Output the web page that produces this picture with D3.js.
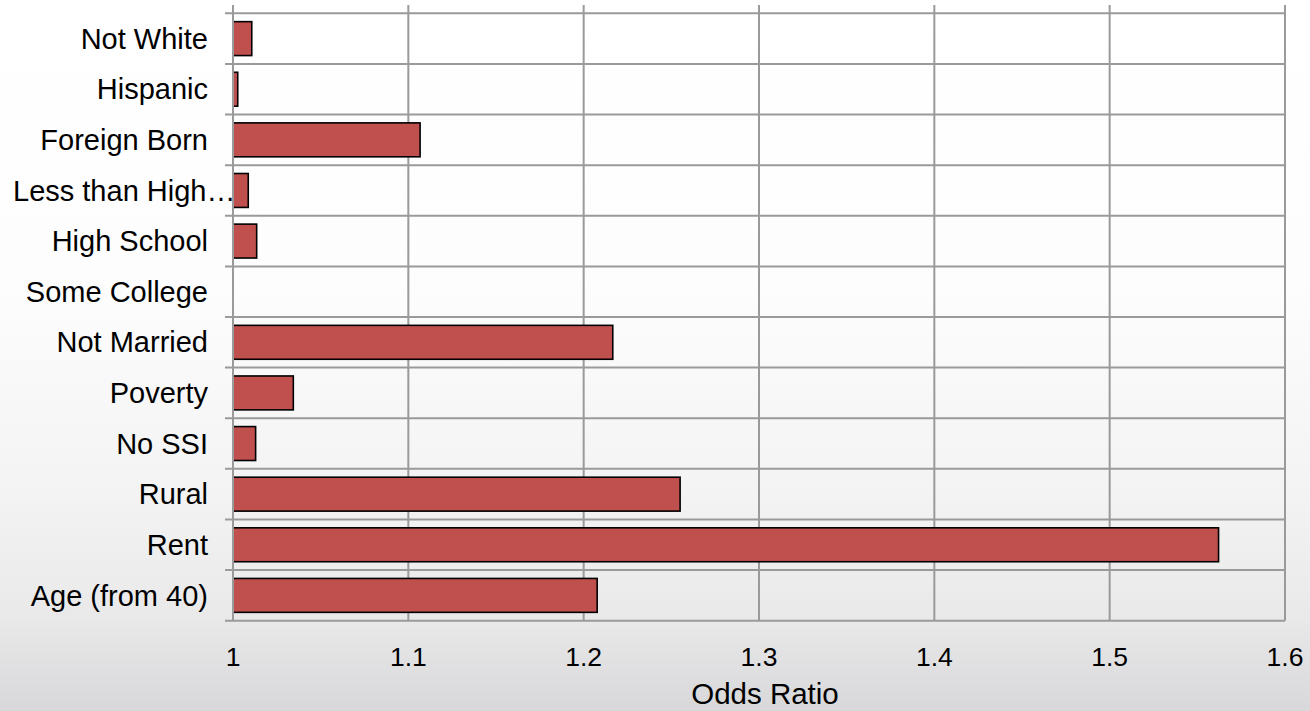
<!DOCTYPE html>
<html>
<head>
<meta charset="utf-8">
<script src="https://cdn.jsdelivr.net/npm/d3@7"></script>
<style>
html,body{margin:0;padding:0;background:#fff;}
svg{display:block;}
text{font-family:"Liberation Sans", Arial, sans-serif; fill:#000;}
</style>
</head>
<body>
<svg id="chart" width="1310" height="711"></svg>
<script>
const categories = ["Not White","Hispanic","Foreign Born","Less than High…","High School","Some College","Not Married","Poverty","No SSI","Rural","Rent","Age (from 40)"];
const oddsRatios = [1.0107,1.0027,1.1067,1.0087,1.0135,1.0,1.2166,1.0344,1.0129,1.255,1.5621,1.2077];
const xTicks = [1,1.1,1.2,1.3,1.4,1.5,1.6];
const xTickLabels = ["1","1.1","1.2","1.3","1.4","1.5","1.6"];
const axisTitle = "Odds Ratio";

(function(){
const W = 1310, H = 711;
const pLeft = 233, pRight = 1285, pTop = 13.3, pBottom = 620.7;

const svg = d3.select("#chart");
const defs = svg.append("defs");
const grad = defs.append("linearGradient").attr("id","bg").attr("x1",0).attr("y1",0).attr("x2",0).attr("y2",1);
[[0,"#ffffff"],[0.4,"#fdfdfd"],[0.7,"#f3f3f3"],[0.87,"#e9e9ea"],[1,"#d8d8da"]].forEach(s=>{
  grad.append("stop").attr("offset",s[0]).attr("stop-color",s[1]);
});
svg.append("rect").attr("width",W).attr("height",H).attr("fill","url(#bg)");

const x = d3.scaleLinear().domain([1,1.6]).range([pLeft,pRight]);
const y = d3.scaleBand().domain(categories).range([pTop,pBottom]).paddingInner(0.33).paddingOuter(0.165);
const yStep = (pBottom-pTop)/categories.length;

const grid = svg.append("g");
grid.selectAll("line.v").data(xTicks).join("line")
  .attr("x1",d=>x(d)).attr("x2",d=>x(d))
  .attr("y1",5).attr("y2",pBottom)
  .attr("stroke","#9a9a9a").attr("stroke-width",2);
const bounds = d3.range(categories.length+1).map(i=>pTop+i*yStep);
grid.selectAll("line.h").data(bounds).join("line")
  .attr("x1",pLeft-8).attr("x2",pRight)
  .attr("y1",d=>d).attr("y2",d=>d)
  .attr("stroke","#9a9a9a").attr("stroke-width",2);

svg.append("g").selectAll("rect").data(categories.map((c,i)=>({c,v:oddsRatios[i]})).filter(d=>d.v>1))
  .join("rect")
  .attr("x",x(1)).attr("y",d=>y(d.c))
  .attr("width",d=>x(d.v)-x(1)).attr("height",y.bandwidth())
  .attr("fill","#C0504D").attr("stroke","#000").attr("stroke-width",1.6);

svg.append("line").attr("x1",pLeft).attr("x2",pLeft).attr("y1",5).attr("y2",pBottom)
  .attr("stroke","#9a9a9a").attr("stroke-width",2);

const labels = svg.append("g").selectAll("text").data(categories).join("text")
  .attr("x",208).attr("y",d=>y(d)+y.bandwidth()/2)
  .attr("dy","0.35em").attr("text-anchor","end")
  .style("font-size","29px").text(d=>d);
// labels too wide for the margin start at the left edge (as in the original)
labels.each(function(){
  const w = this.getComputedTextLength();
  if (208 - w < 13) d3.select(this).attr("text-anchor","start").attr("x",13);
});

svg.append("g").selectAll("text").data(xTicks).join("text")
  .attr("x",d=>x(d)).attr("y",666)
  .attr("text-anchor","middle").style("font-size","26.5px")
  .text((d,i)=>xTickLabels[i]);

svg.append("text").attr("x",765).attr("y",704).attr("text-anchor","middle")
  .style("font-size","29.5px").text(axisTitle);
})();
</script>
</body>
</html>
